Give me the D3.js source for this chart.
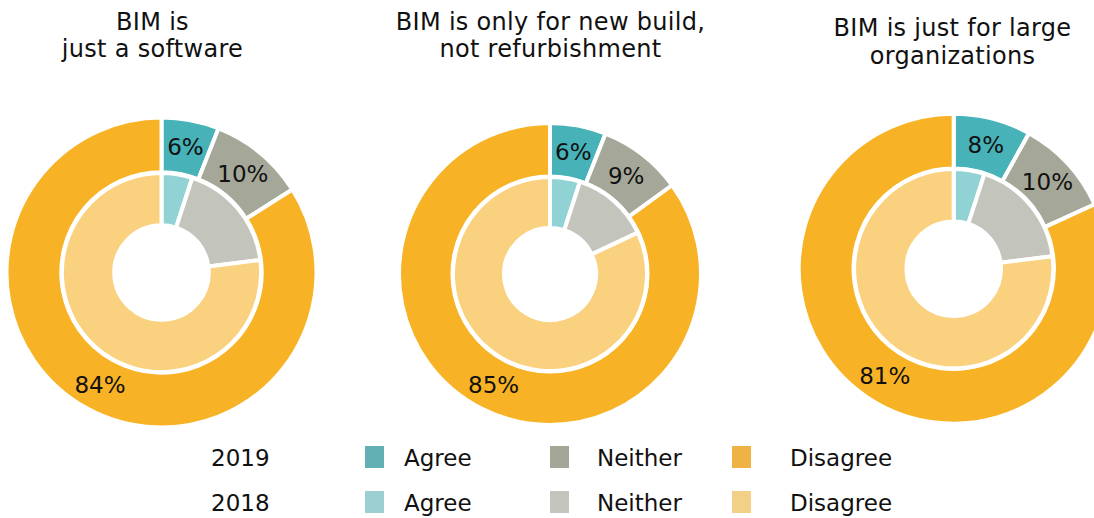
<!DOCTYPE html>
<html>
<head>
<meta charset="utf-8">
<script src="https://cdn.jsdelivr.net/npm/d3@7"></script>
<style>
  html, body { margin: 0; padding: 0; background: #fff; overflow: hidden; }
  svg { display: block; font-family: "DejaVu Sans", Verdana, sans-serif; }
</style>
</head>
<body>
<svg id="chart" width="1094" height="518"></svg>
<script>
// ---- data ----
const titles = [
  ["BIM is", "just a software"],
  ["BIM is only for new build,", "not refurbishment"],
  ["BIM is just for large", "organizations"]
];
const categories = ["Agree", "Neither", "Disagree"];
const years = ["2019", "2018"];
const values2019 = [
  [6, 10, 84],
  [6, 9, 85],
  [8, 10, 81]
];
const values2018 = [
  [5, 18, 77],
  [5, 13, 82],
  [5, 18, 77]
];

// ---- styles / layout ----
const colors2019 = ["#47b2b7", "#a5a898", "#f7b325"];
const colors2018 = ["#91d3d4", "#c3c5bc", "#fad17e"];
const legendColors = [
  ["#62b0b3", "#a4a797", "#efb245"],
  ["#9ccfd1", "#c3c4bb", "#f3d088"]
];
const layout = [
  { cx: 161.5, cy: 272.5, r: 153, tx: 152.5, ty: 29.5 },
  { cx: 550,   cy: 274,   r: 149, tx: 550.5, ty: 29.5 },
  { cx: 953.7, cy: 268.7, r: 153, tx: 952.5, ty: 35.8 }
];
const SW = 4; // white separator stroke

const svg = d3.select("#chart");
const pie = d3.pie().sort(null).value(d => d);

values2019.forEach((vals, i) => {
  const L = layout[i];
  const g = svg.append("g").attr("transform", `translate(${L.cx},${L.cy})`);
  const rOut = L.r, rOutIn = L.r * 0.668, rInOut = L.r * 0.638, rHole = L.r * 0.322;

  const arcOuter = d3.arc().outerRadius(rOut + SW / 2).innerRadius(rOutIn - SW / 2);
  const arcInner = d3.arc().outerRadius(rInOut + SW / 2).innerRadius(rHole - SW / 2);
  const arcLabel = d3.arc().outerRadius((rOut + rOutIn) / 2).innerRadius((rOut + rOutIn) / 2);

  g.selectAll("path.outer").data(pie(vals)).enter().append("path")
    .attr("class", "outer")
    .attr("d", arcOuter)
    .attr("fill", (d, j) => colors2019[j])
    .attr("stroke", "#fff").attr("stroke-width", SW);

  g.selectAll("path.inner").data(pie(values2018[i])).enter().append("path")
    .attr("class", "inner")
    .attr("d", arcInner)
    .attr("fill", (d, j) => colors2018[j])
    .attr("stroke", "#fff").attr("stroke-width", SW);

  g.selectAll("text.lbl").data(pie(vals)).enter().append("text")
    .attr("class", "lbl")
    .attr("transform", d => `translate(${arcLabel.centroid(d)})`)
    .attr("text-anchor", "middle")
    .attr("dy", "0.36em")
    .attr("font-size", 23)
    .attr("fill", "#111")
    .text(d => d.data + "%");

  const t = svg.append("text")
    .attr("x", L.tx).attr("y", L.ty)
    .attr("text-anchor", "middle")
    .attr("font-size", 24)
    .attr("letter-spacing", 0.3)
    .attr("fill", "#111");
  titles[i].forEach((line, k) => {
    t.append("tspan").attr("x", L.tx).attr("y", L.ty + k * 27.8).text(line);
  });
});

// ---- legend ----
const legendY = [466, 511];
const swatchX = [365, 550, 732];
const labelX = [404, 597, 790];
years.forEach((yr, r) => {
  svg.append("text")
    .attr("x", 211).attr("y", legendY[r])
    .attr("font-size", 23).attr("fill", "#111")
    .text(yr);
  categories.forEach((c, j) => {
    svg.append("rect")
      .attr("x", swatchX[j]).attr("y", legendY[r] - 20)
      .attr("width", 19).attr("height", 22)
      .attr("fill", legendColors[r][j]);
    svg.append("text")
      .attr("x", labelX[j]).attr("y", legendY[r])
      .attr("font-size", 23).attr("fill", "#111")
      .text(c);
  });
});
</script>
</body>
</html>
